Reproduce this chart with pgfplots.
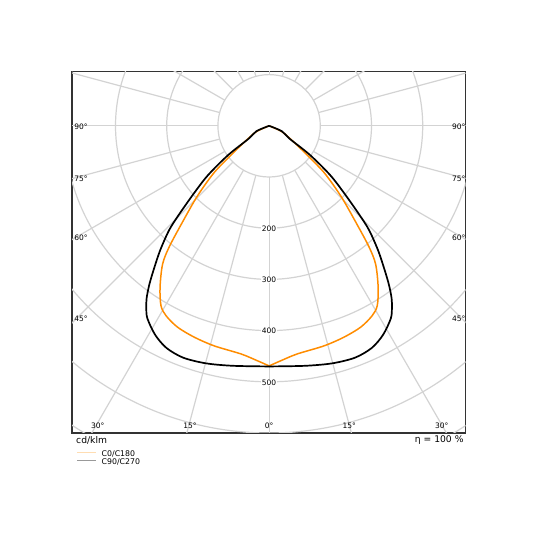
\documentclass[border=0pt]{standalone}
\usepackage{pgfplots}
\pgfplotsset{compat=1.18}
\usepackage{pgfplotstable}
\usepackage{fontspec}
\setmainfont{DejaVu Sans}

\definecolor{gridc}{HTML}{D3D3D3}
\definecolor{framec}{HTML}{333333}
\definecolor{ldcorange}{HTML}{FF8C00}

% gamma angle (deg from nadir), intensity (cd/klm)
\pgfplotstableread{
a r
0 469
3 459
7 449
14 443
19.5 438
24.5 432
28.5 422
31 410
34 381
37.6 341
39.6 305
42.3 247
45.6 196
49.6 141
53 87
56.5 59
60 42
66 26
90 0
}\cOdata

\pgfplotstableread{
a r
0 470
8.5 474
14.8 480
20.3 483
24.8 478
28.6 465
32.3 445
34.0 429
35.4 413
37.0 389
38.7 361
41.2 323
43.8 282
45.4 248
48.1 197
51.1 153
54.5 98
57.7 48
66.9 27
90 0
}\cNdata

\begin{document}
\begin{tikzpicture}[lbl/.style={font=\fontsize{7.5}{8}\selectfont, inner sep=0.6pt}]
\path[use as bounding box] (0pt,0pt) rectangle (540pt,540pt);
\begin{axis}[
  name=ax,
  at={(72pt,107pt)}, anchor=south west,
  scale only axis, width=393.7pt, height=361.2pt,
  xmin=-385, xmax=384, ymin=-600, ymax=105.5,
  ticks=none,
  axis line style={draw=framec, line width=1.3pt},
  legend style={at={(0.0115,-0.049)}, anchor=north west, draw=none, fill=none,
    inner sep=0pt, font=\fontsize{7.8}{8}\selectfont, column sep=5pt, row sep=0pt,
    nodes={inner sep=0pt, text height=5.8pt, text depth=1.9pt}},
  legend cell align=left,
  legend image code/.code={\draw[#1] (0pt,2.2pt) -- (19pt,2.2pt);},
]
% polar grid
\pgfplotsinvokeforeach{1,...,7}{
  \draw[gridc, line width=1.2pt] (axis cs:0,0) circle[radius=#1*51.2pt];
}
\pgfplotsinvokeforeach{0,15,...,345}{
  \draw[gridc, line width=1.2pt] (axis cs:{100*sin(#1)},{-100*cos(#1)}) -- (axis cs:{800*sin(#1)},{-800*cos(#1)});
}

\addlegendimage{ldcorange!30, line width=1pt}
\addlegendentry{C0/C180}
\addlegendimage{gray!80, line width=1pt}
\addlegendentry{C90/C270}

% C0/C180
\addplot[ldcorange, line width=1.5pt, smooth, forget plot]
  table[x expr={\thisrow{r}*sin(\thisrow{a})}, y expr={-\thisrow{r}*cos(\thisrow{a})}] {\cOdata};
\addplot[ldcorange, line width=1.5pt, smooth, forget plot]
  table[x expr={-\thisrow{r}*sin(\thisrow{a})}, y expr={-\thisrow{r}*cos(\thisrow{a})}] {\cOdata};
% C90/C270
\addplot[black, line width=1.7pt, smooth, forget plot]
  table[x expr={\thisrow{r}*sin(\thisrow{a})}, y expr={-\thisrow{r}*cos(\thisrow{a})}] {\cNdata};
\addplot[black, line width=1.7pt, smooth, forget plot]
  table[x expr={-\thisrow{r}*sin(\thisrow{a})}, y expr={-\thisrow{r}*cos(\thisrow{a})}] {\cNdata};

% intensity labels
\node[lbl, fill=white] at (axis cs:0,-201) {200};
\node[lbl, fill=white] at (axis cs:0,-301) {300};
\node[lbl, fill=white] at (axis cs:0,-401) {400};
\node[lbl, fill=white] at (axis cs:0,-501) {500};

% angle labels
\node[lbl, anchor=west] at (axis cs:-382,-2) {90°};
\node[lbl, anchor=west] at (axis cs:-382,-104) {75°};
\node[lbl, anchor=west] at (axis cs:-382,-219) {60°};
\node[lbl, anchor=west] at (axis cs:-382,-376) {45°};
\node[lbl, anchor=east] at (axis cs:385,-2) {90°};
\node[lbl, anchor=east] at (axis cs:385,-104) {75°};
\node[lbl, anchor=east] at (axis cs:385,-219) {60°};
\node[lbl, anchor=east] at (axis cs:385,-376) {45°};
\node[lbl] at (axis cs:-334.8,-586) {30°};
\node[lbl] at (axis cs:-154.5,-586) {15°};
\node[lbl] at (axis cs:0,-586) {0°};
\node[lbl] at (axis cs:156.6,-586) {15°};
\node[lbl] at (axis cs:337.1,-586) {30°};
\end{axis}
\node[anchor=west, inner sep=0pt, font=\fontsize{9.2}{10}\selectfont] at ([xshift=4pt, yshift=-7pt]ax.south west) {cd/klm};
\node[anchor=east, inner sep=0pt, font=\fontsize{9.2}{10}\selectfont] at ([xshift=-2pt, yshift=-7pt]ax.south east) {η = 100 \%};
\end{tikzpicture}
\end{document}
